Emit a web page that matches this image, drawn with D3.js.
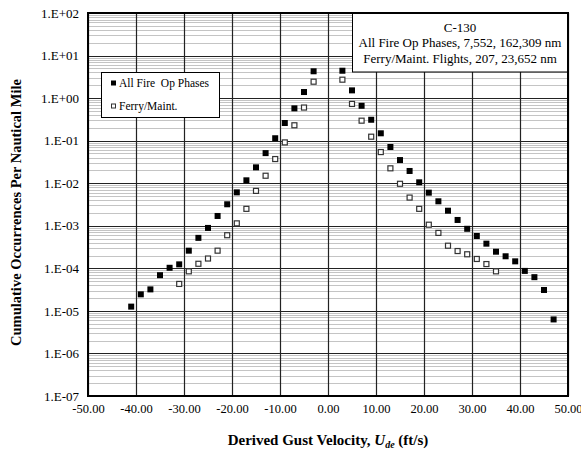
<!DOCTYPE html>
<html>
<head>
<meta charset="utf-8">
<script src="https://cdn.jsdelivr.net/npm/d3@7"></script>
<style>
  body { margin: 0; background: #fff; }
  svg { display: block; font-family: "Liberation Serif", "Times New Roman", serif; }
</style>
</head>
<body>
<div id="chart"></div>
<script>
// gust velocity bins (ft/s) and cumulative occurrences per nm
const fireVel = [-41, -39, -37, -35, -33, -31, -29, -27, -25, -23, -21, -19, -17, -15, -13, -11, -9, -7, -5, -3,
    3, 5, 7, 9, 11, 13, 15, 17, 19, 21, 23, 25, 27, 29, 31, 33, 35, 37, 39, 41, 43, 45, 47];
const fireVals = [1.26e-5, 2.45e-5, 3.2e-5, 6.9e-5, 1.03e-4, 1.24e-4, 2.6e-4, 5.2e-4, 8.9e-4, 1.7e-3,
    3.2e-3, 6.1e-3, 1.17e-2, 2.36e-2, 5.1e-2, 0.114, 0.26, 0.575, 1.39, 4.27,
    4.4, 1.52, 0.66, 0.31, 0.149, 0.071, 0.035, 0.0194, 0.0105, 6.0e-3, 3.76e-3, 2.26e-3, 1.37e-3,
    8.5e-4, 5.75e-4, 3.8e-4, 2.46e-4, 1.92e-4, 1.46e-4, 8.7e-5, 6.2e-5, 3.1e-5, 6.3e-6];

const ferryVel = [-31, -29, -27, -25, -23, -21, -19, -17, -15, -13, -11, -9, -7, -5, -3,
    3, 5, 7, 9, 11, 13, 15, 17, 19, 21, 23, 25, 27, 29, 31, 33, 35];
const ferryVals = [4.3e-5, 8.5e-5, 1.28e-4, 1.7e-4, 2.6e-4, 6.0e-4, 1.14e-3, 2.5e-3, 6.6e-3, 1.5e-2,
    3.7e-2, 0.091, 0.23, 0.60, 2.43,
    2.71, 0.73, 0.295, 0.124, 0.054, 0.0224, 9.7e-3, 4.6e-3, 2.5e-3, 1.06e-3, 6.8e-4, 3.4e-4,
    2.55e-4, 2.14e-4, 1.66e-4, 1.26e-4, 8.5e-5];

const xTicks = [-50, -40, -30, -20, -10, 0, 10, 20, 30, 40, 50];
const xTickLabels = ['-50.00', '-40.00', '-30.00', '-20.00', '-10.00', '0.00', '10.00', '20.00', '30.00', '40.00', '50.00'];
const yTicks = [1e-7, 1e-6, 1e-5, 1e-4, 1e-3, 1e-2, 1e-1, 1e0, 1e1, 1e2];
const yTickLabels = ['1.E-07', '1.E-06', '1.E-05', '1.E-04', '1.E-03', '1.E-02', '1.E-01', '1.E+00', '1.E+01', '1.E+02'];

const seriesNames = ['All Fire  Op Phases', 'Ferry/Maint.'];
const noteLines = ['C-130', 'All Fire Op Phases, 7,552, 162,309 nm', 'Ferry/Maint. Flights, 207, 23,652 nm'];

const width = 581;
const height = 451;
const margin = {top: 13, right: 13, bottom: 55, left: 88};

const svg = d3.select('#chart')
    .append('svg')
        .attr('width', width)
        .attr('height', height);

const x = d3.scaleLinear()
    .domain([-50, 50])
    .range([margin.left, width - margin.right]);
const y = d3.scaleLog()
    .domain([1e-7, 1e2])
    .range([height - margin.bottom, margin.top]);

// minor log gridlines
const minor = [];
yTicks.slice(0, -1).forEach(d => {
    for (let k = 2; k <= 9; k++) minor.push(d * k);
});

const grid = svg.append('g');
grid.selectAll('.minor')
    .data(minor)
    .join('line')
        .attr('x1', x(-50))
        .attr('x2', x(50))
        .attr('y1', d => Math.round(y(d)) + 0.5)
        .attr('y2', d => Math.round(y(d)) + 0.5)
        .attr('stroke', '#c4c4c4')
        .attr('stroke-width', 1);
grid.selectAll('.major-y')
    .data(yTicks)
    .join('line')
        .attr('x1', x(-50))
        .attr('x2', x(50))
        .attr('y1', d => Math.round(y(d)) + 0.5)
        .attr('y2', d => Math.round(y(d)) + 0.5)
        .attr('stroke', '#222')
        .attr('stroke-width', 1.2);
grid.selectAll('.major-x')
    .data(xTicks)
    .join('line')
        .attr('x1', d => Math.round(x(d)) + 0.5)
        .attr('x2', d => Math.round(x(d)) + 0.5)
        .attr('y1', y(1e2))
        .attr('y2', y(1e-7))
        .attr('stroke', '#222')
        .attr('stroke-width', 1.2);

const xAxis = g =>
    g
        .attr('transform', `translate(0,${height - margin.bottom})`)
        .call(d3.axisBottom(x)
            .tickValues(xTicks)
            .tickSize(0)
            .tickPadding(8)
            .tickFormat((d, i) => xTickLabels[i]))
        .call(g => g.select('.domain').remove())
        .call(g => g.attr('font-family', null).attr('font-size', null))
        .call(g => g.selectAll('.tick text')
            .attr('fill', '#000')
            .style('font-size', '12.5px'));
const yAxis = g =>
    g
        .attr('transform', `translate(${margin.left},0)`)
        .call(d3.axisLeft(y)
            .tickValues(yTicks)
            .tickSize(0)
            .tickPadding(9)
            .tickFormat((d, i) => yTickLabels[i]))
        .call(g => g.select('.domain').remove())
        .call(g => g.attr('font-family', null).attr('font-size', null))
        .call(g => g.selectAll('.tick text')
            .attr('fill', '#000')
            .style('font-size', '13px'));

svg.append('g').call(xAxis);
svg.append('g').call(yAxis);

// data
const s = 6;
svg.append('g')
    .selectAll('rect')
    .data(ferryVel.map((v, i) => [v, ferryVals[i]]))
    .join('rect')
        .attr('x', d => x(d[0]) - s / 2 + 0.5)
        .attr('y', d => y(d[1]) - s / 2 + 0.5)
        .attr('width', s - 1)
        .attr('height', s - 1)
        .attr('fill', '#fff')
        .attr('stroke', '#333')
        .attr('stroke-width', 1.2);
svg.append('g')
    .selectAll('rect')
    .data(fireVel.map((v, i) => [v, fireVals[i]]))
    .join('rect')
        .attr('x', d => x(d[0]) - s / 2)
        .attr('y', d => y(d[1]) - s / 2)
        .attr('width', s)
        .attr('height', s)
        .attr('fill', '#000');

// legend
const lg = svg.append('g');
lg.append('rect')
    .attr('x', 101.5)
    .attr('y', 72.5)
    .attr('width', 118)
    .attr('height', 45)
    .attr('fill', '#fff')
    .attr('stroke', '#000')
    .attr('stroke-width', 1);
seriesNames.forEach((name, i) => {
    const cy = 83 + i * 23;
    if (i === 0) {
        lg.append('rect').attr('x', 111).attr('y', cy - 2.5).attr('width', 5).attr('height', 5).attr('fill', '#000');
    } else {
        lg.append('rect').attr('x', 111.5).attr('y', cy - 2).attr('width', 4).attr('height', 4)
            .attr('fill', '#fff').attr('stroke', '#333').attr('stroke-width', 1);
    }
    lg.append('text')
        .attr('x', 119)
        .attr('y', cy)
        .attr('dy', '0.35em')
        .style('font-size', '11.5px')
        .style('white-space', 'pre')
        .text(name);
});

// annotation box
const nb = svg.append('g');
nb.append('rect')
    .attr('x', 352.5)
    .attr('y', y(1e2))
    .attr('width', x(50) - 352.5)
    .attr('height', 59)
    .attr('fill', '#fff')
    .attr('stroke', '#000')
    .attr('stroke-width', 1);
noteLines.forEach((t, i) => {
    nb.append('text')
        .attr('x', (352 + x(50)) / 2)
        .attr('y', 27 + i * 15.5)
        .attr('dy', '0.35em')
        .attr('text-anchor', 'middle')
        .style('font-size', '13px')
        .text(t);
});

// plot border
svg.append('rect')
    .attr('x', x(-50))
    .attr('y', y(1e2))
    .attr('width', x(50) - x(-50))
    .attr('height', y(1e-7) - y(1e2))
    .attr('fill', 'none')
    .attr('stroke', '#000')
    .attr('stroke-width', 2);

// axis titles
const xt = svg.append('text')
    .attr('x', (x(-50) + x(50)) / 2)
    .attr('y', 445)
    .attr('text-anchor', 'middle')
    .style('font-size', '15px')
    .style('font-weight', 'bold');
xt.append('tspan').text('Derived Gust Velocity, ');
xt.append('tspan').style('font-style', 'italic').text('U');
xt.append('tspan').style('font-style', 'italic').style('font-size', '10px').attr('dy', 3).text('de');
xt.append('tspan').attr('dy', -3).text(' (ft/s)');

svg.append('text')
    .attr('transform', `translate(21,${(y(1e2) + y(1e-7)) / 2 + 8}) rotate(-90)`)
    .attr('text-anchor', 'middle')
    .style('font-size', '14.5px')
    .style('font-weight', 'bold')
    .text('Cumulative Occurrences Per Nautical Mile');
</script>
</body>
</html>
